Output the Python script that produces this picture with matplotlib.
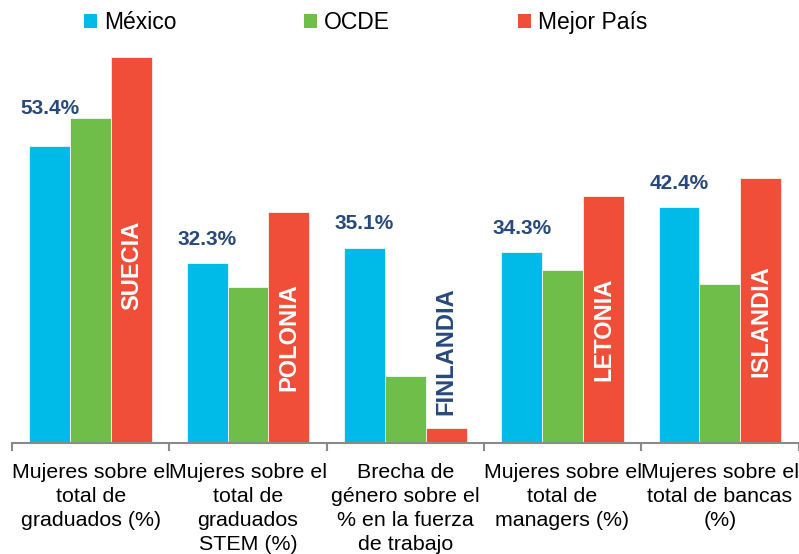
import matplotlib
matplotlib.use("Agg")
import matplotlib.pyplot as plt
from matplotlib.patches import Patch
import numpy as np

plt.rcParams['font.family'] = ['Liberation Sans', 'DejaVu Sans']

categories = [
    "Mujeres sobre el\ntotal de\ngraduados (%)",
    "Mujeres sobre el\ntotal de\ngraduados\nSTEM (%)",
    "Brecha de\ngénero sobre el\n% en la fuerza\nde trabajo",
    "Mujeres sobre el\ntotal de\nmanagers (%)",
    "Mujeres sobre el\ntotal de bancas\n(%)",
]
series_names = ["México", "OCDE", "Mejor País"]
mexico = [53.4, 32.3, 35.1, 34.3, 42.4]
ocde = [58.5, 28.0, 12.0, 31.2, 28.6]
mejor = [69.4, 41.5, 2.7, 44.4, 47.7]
mejor_pais = ["SUECIA", "POLONIA", "FINLANDIA", "LETONIA", "ISLANDIA"]
mexico_labels = ["53.4%", "32.3%", "35.1%", "34.3%", "42.4%"]

c_mex = "#00BBE7"
c_ocde = "#6FBE4A"
c_best = "#F04E39"
c_lab = "#27497C"

W, H = 799, 554
fig = plt.figure(figsize=(W / 100, H / 100), dpi=100)
ax = fig.add_axes([12 / W, 111 / H, 786.5 / W, 400.3 / H])

x = np.arange(len(categories))
bw = 0.26
ax.bar(x - bw, mexico, bw, color=c_mex, edgecolor="white", linewidth=0.5)
ax.bar(x, ocde, bw, color=c_ocde, edgecolor="white", linewidth=0.5)
ax.bar(x + bw, mejor, bw, color=c_best, edgecolor="white", linewidth=0.5)

ax.set_xlim(-0.5, len(categories) - 0.5)
ax.set_ylim(0, 72)

# Mexico value labels
for i in range(len(categories)):
    y = max(mexico[i] + 2.6, ocde[i])
    ax.text(x[i] - bw, y, mexico_labels[i], ha="center", va="bottom",
            fontsize=15, fontweight="bold", color=c_lab)

# Best-country labels
for i in range(len(categories)):
    if mejor[i] > 20:
        ax.text(x[i] + bw, mejor[i] * 0.46, mejor_pais[i], rotation=90,
                ha="center", va="center", fontsize=17, fontweight="bold",
                color="white")
    else:
        ax.text(x[i] + bw, mejor[i] + 2.3, mejor_pais[i], rotation=90,
                ha="center", va="bottom", fontsize=17, fontweight="bold",
                color=c_lab)

for s in ["top", "right", "left"]:
    ax.spines[s].set_visible(False)
ax.spines["bottom"].set_color("#8A8A8A")
ax.spines["bottom"].set_linewidth(1.5)
ax.set_yticks([])
ax.set_xticks(x)
ax.set_xticklabels(categories, fontsize=15.4, linespacing=1.33)
ax.tick_params(axis="x", which="major", length=0, pad=14.5)
ax.set_xticks(np.arange(-0.5, len(categories) + 0.5, 1.0), minor=True)
ax.tick_params(axis="x", which="minor", length=6, width=1.5, color="#8A8A8A",
               direction="out")

handles = [Patch(facecolor=c, edgecolor="none") for c in (c_mex, c_ocde, c_best)]
fig.legend(handles, series_names, loc="upper left", bbox_to_anchor=(75 / W, 1 - 2 / H),
           ncol=3, frameon=False, fontsize=16.5, handlelength=0.55, handleheight=0.55,
           handletextpad=0.3, columnspacing=5.6, borderaxespad=0)

fig.savefig("out.png", dpi=100)
